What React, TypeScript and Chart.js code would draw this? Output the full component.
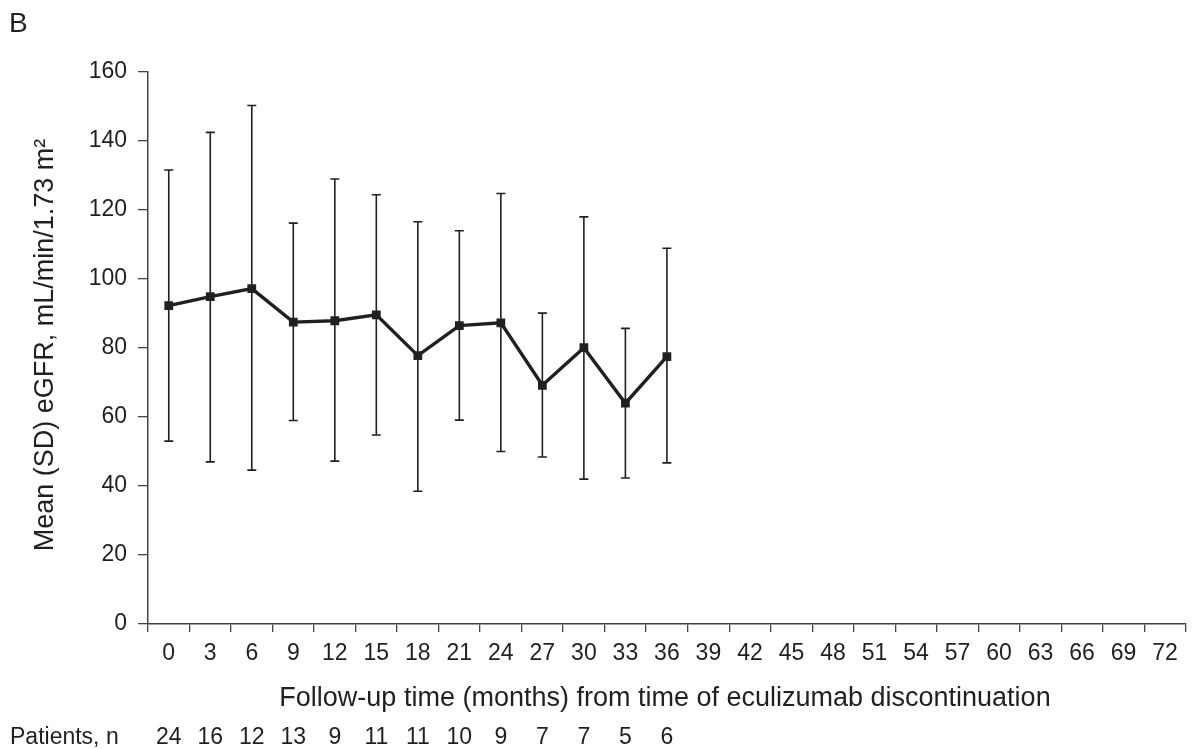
import React, { useEffect, useRef } from "react";
import { Chart, registerables } from "chart.js";

Chart.register(...registerables);

const months = ["0","3","6","9","12","15","18","21","24","27","30","33","36","39","42","45","48","51","54","57","60","63","66","69","72"];
const meanEGFR = [92.3, 94.9, 97.2, 87.5, 87.9, 89.6, 77.8, 86.5, 87.3, 69.2, 80.1, 64.0, 77.5];
const sdUpper = [131.6, 142.5, 150.3, 116.2, 129.0, 124.4, 116.6, 114.0, 124.8, 90.1, 118.0, 85.7, 108.9];
const sdLower = [53.0, 47.0, 44.6, 59.0, 47.2, 54.8, 38.5, 59.1, 50.0, 48.4, 42.0, 42.3, 46.7];
const patients = [24, 16, 12, 13, 9, 11, 11, 10, 9, 7, 7, 5, 6];
const yMin = 0;
const yMax = 160;
const yStep = 20;

const panelLabel = "B";
const yTitle = "Mean (SD) eGFR, mL/min/1.73 m²";
const xTitle = "Follow-up time (months) from time of eculizumab discontinuation";
const patientsLabel = "Patients, n";

const FONT = "'Liberation Sans', Arial, sans-serif";
const INK = "#231f20";

export default function App() {
  const ref = useRef<HTMLCanvasElement | null>(null);

  useEffect(() => {
    const canvas = ref.current;
    if (!canvas) return;

    const errorBars = {
      id: "errorBars",
      beforeDatasetsDraw(chart: any) {
        const { ctx, scales } = chart;
        const x = scales.x;
        const y = scales.y;
        ctx.save();
        ctx.strokeStyle = INK;
        ctx.lineWidth = 1.6;
        for (let i = 0; i < meanEGFR.length; i++) {
          const px = x.getPixelForValue(i);
          const top = y.getPixelForValue(sdUpper[i]);
          const bot = y.getPixelForValue(sdLower[i]);
          ctx.beginPath();
          ctx.moveTo(px, top);
          ctx.lineTo(px, bot);
          ctx.moveTo(px - 4.5, top);
          ctx.lineTo(px + 4.5, top);
          ctx.moveTo(px - 4.5, bot);
          ctx.lineTo(px + 4.5, bot);
          ctx.stroke();
        }
        ctx.restore();
      },
    };

    const texts = {
      id: "texts",
      afterDraw(chart: any) {
        const { ctx, scales } = chart;
        const x = scales.x;
        ctx.save();
        ctx.fillStyle = INK;
        ctx.textBaseline = "alphabetic";
        // panel label
        ctx.font = `28px ${FONT}`;
        ctx.textAlign = "left";
        ctx.fillText(panelLabel, 9, 32);
        // x title
        ctx.font = `27px ${FONT}`;
        ctx.textAlign = "center";
        ctx.fillText(xTitle, 665, 706);
        // y title
        ctx.save();
        ctx.translate(53, 345);
        ctx.rotate(-Math.PI / 2);
        ctx.textAlign = "center";
        ctx.fillText(yTitle, 0, 0);
        ctx.restore();
        // patients row
        ctx.font = `23px ${FONT}`;
        ctx.textAlign = "left";
        ctx.fillText(patientsLabel, 10, 744);
        ctx.textAlign = "center";
        for (let i = 0; i < patients.length; i++) {
          ctx.fillText(String(patients[i]), x.getPixelForValue(i), 744);
        }
        ctx.restore();
      },
    };

    const chart = new Chart(canvas, {
      type: "line",
      data: {
        labels: months,
        datasets: [
          {
            data: meanEGFR,
            borderColor: INK,
            backgroundColor: INK,
            borderWidth: 3.4,
            pointStyle: "rect",
            pointRadius: 6.2,
            pointBackgroundColor: INK,
            pointBorderColor: INK,
            pointBorderWidth: 0,
            tension: 0,
          },
        ],
      },
      options: {
        responsive: false,
        animation: false,
        devicePixelRatio: 1,
        layout: { padding: { top: 72, right: 4, left: 0, bottom: 0 } },
        plugins: { legend: { display: false }, tooltip: { enabled: false } },
        scales: {
          x: {
            type: "category",
            offset: true,
            grid: {
              display: true,
              drawOnChartArea: false,
              drawTicks: true,
              tickLength: 8,
              offset: true,
              color: "#444",
              lineWidth: 1.3,
            },
            border: { display: true, color: "#444", width: 1.5 },
            ticks: {
              color: INK,
              font: { size: 23, family: FONT },
              padding: 8,
              maxRotation: 0,
              autoSkip: false,
            },
            afterFit: (s: any) => {
              s.height = 125;
            },
          },
          y: {
            min: yMin,
            max: yMax,
            grid: {
              display: true,
              drawOnChartArea: false,
              drawTicks: true,
              tickLength: 10,
              color: "#444",
              lineWidth: 1.3,
            },
            border: { display: true, color: "#444", width: 1.5 },
            ticks: {
              stepSize: yStep,
              color: INK,
              font: { size: 23, family: FONT },
              padding: 11,
            },
            afterFit: (s: any) => {
              s.width = 148;
            },
          },
        },
      },
      plugins: [errorBars, texts],
    });

    return () => chart.destroy();
  }, []);

  return (
    <div style={{ position: "fixed", left: 0, top: 0, width: 1192, height: 749, background: "#fff" }}>
      <canvas ref={ref} width={1192} height={749} style={{ width: 1192, height: 749, display: "block" }} />
    </div>
  );
}
